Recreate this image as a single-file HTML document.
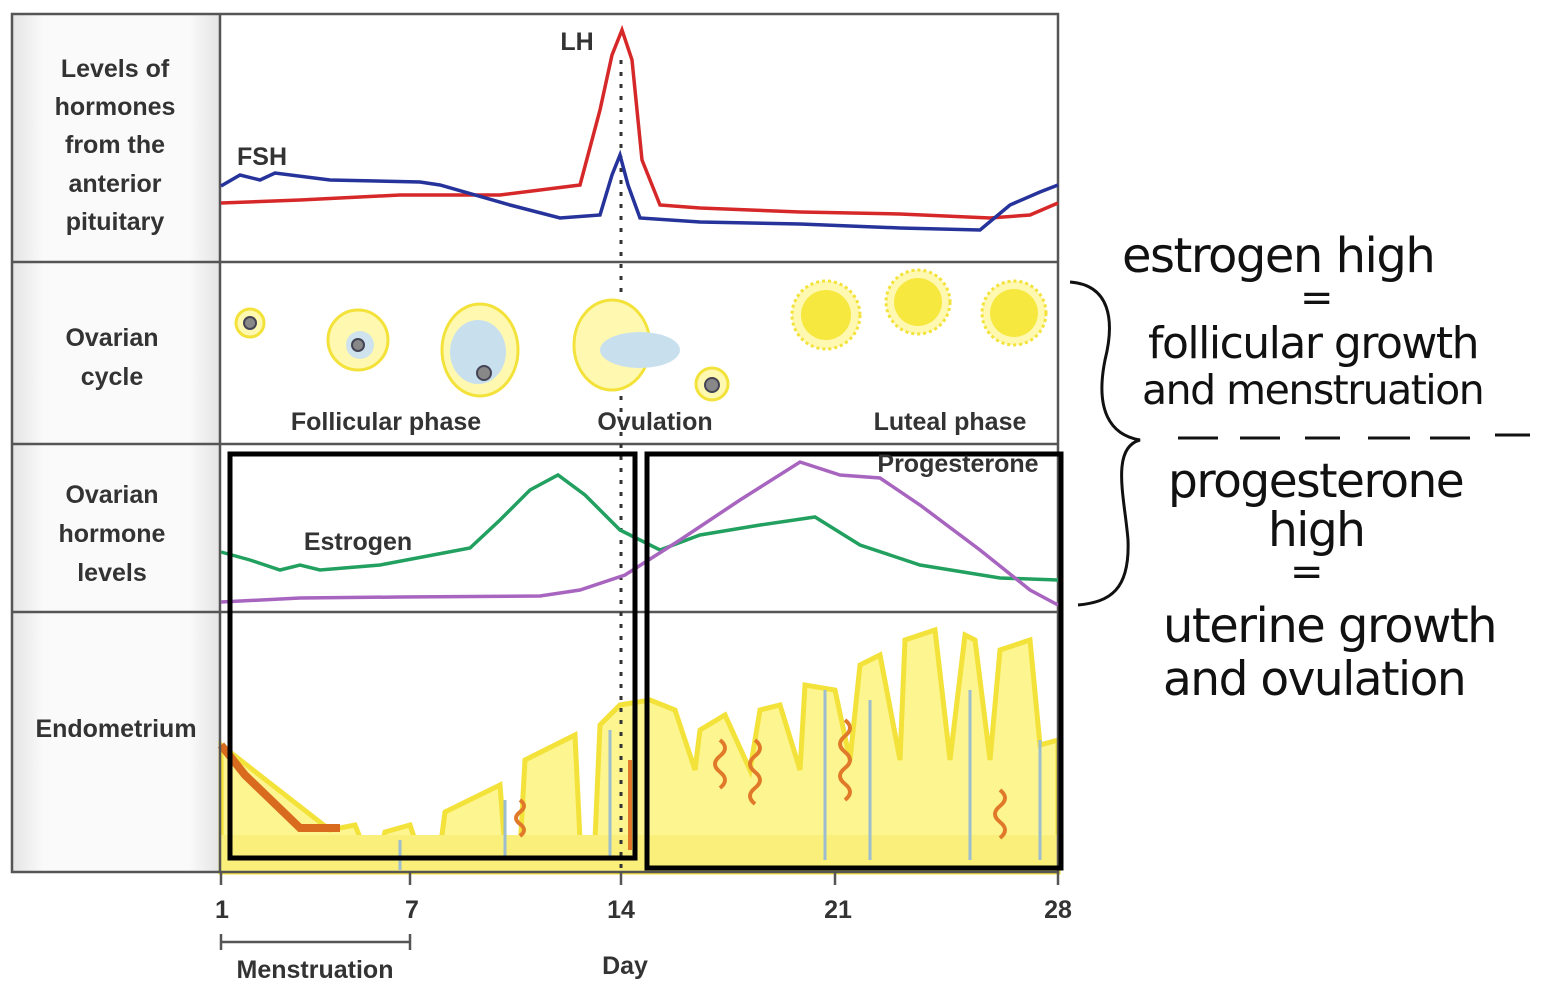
<!DOCTYPE html>
<html><head><meta charset="utf-8"><style>
body{margin:0;width:1568px;height:1000px;background:#fff;overflow:hidden;font-family:"Liberation Sans",sans-serif}
.hw{position:absolute;font-family:"DejaVu Sans","Liberation Sans",sans-serif;font-weight:normal;color:#111;letter-spacing:-1.5px;white-space:nowrap;line-height:1}
</style></head><body>
<svg width="1568" height="1000" style="position:absolute;left:0;top:0" font-family="Liberation Sans, sans-serif">
<defs><linearGradient id="g" x1="0" x2="1"><stop offset="0" stop-color="#e4e4e4"/><stop offset="0.15" stop-color="#fafafa"/><stop offset="0.85" stop-color="#fafafa"/><stop offset="1" stop-color="#e4e4e4"/></linearGradient></defs>
<rect x="12" y="14" width="208" height="858" fill="url(#g)"/>
<path d="M221,745 L221,872 L1058,872 L1058,740 L1040,745 L1030,640 L1000,650 L990,760 L975,640 L965,635 L950,760 L935,630 L905,640 L900,760 L880,655 L860,665 L850,760 L835,690 L805,685 L800,770 L780,705 L760,710 L750,770 L725,715 L700,730 L695,770 L675,710 L650,700 L620,705 L600,725 L595,840 L580,840 L575,735 L525,760 L520,850 L505,850 L500,785 L445,812 L440,850 L430,850 L415,840 L410,825 L385,832 L380,850 L365,850 L355,825 L330,830 Z" fill="#fdf590" stroke="#f3e23a" stroke-width="5"/>
<rect x="221" y="835" width="837" height="37" fill="#f9ef7a"/>
<path d="M221,745 L245,775 L300,828 L340,828" stroke="#d96b1e" stroke-width="8" fill="none"/>
<g stroke="#e07a2a" stroke-width="4" fill="none">
<path d="M755,740 q10,8 0,16 q-10,8 0,16 q10,8 0,16 q-10,8 0,16"/><path d="M845,720 q10,8 0,16 q-10,8 0,16 q10,8 0,16 q-10,8 0,16 q10,8 0,16"/><path d="M720,740 q10,8 0,16 q-10,8 0,16 q10,8 0,16"/><path d="M630,760 v90"/><path d="M1000,790 q10,8 0,16 q-10,8 0,16 q10,8 0,16"/><path d="M520,800 q8,6 0,12 q-8,6 0,12 q8,6 0,12"/></g>
<g stroke="#9cbcd0" stroke-width="3" fill="none"><path d="M610,730 v130 M825,690 v170 M870,700 v160 M970,690 v170 M1040,740 v120 M400,840 v30 M505,800 v60"/></g>
<rect x="12" y="14" width="1046" height="858" fill="none" stroke="#555" stroke-width="2.5"/>
<line x1="220" y1="14" x2="220" y2="872" stroke="#555" stroke-width="2.5"/>
<g stroke="#555" stroke-width="2.5"><line x1="12" y1="262" x2="1058" y2="262"/><line x1="12" y1="444" x2="1058" y2="444"/><line x1="12" y1="612" x2="1058" y2="612"/></g>
<line x1="621" y1="60" x2="621" y2="872" stroke="#333" stroke-width="3" stroke-dasharray="4,8"/>
<path d="M221,203 L300,200 L400,195 L500,195 L580,185 L600,110 L612,55 L622,30 L632,60 L642,160 L660,205 L700,208 L800,212 L900,214 L990,218 L1030,215 L1058,203" stroke="#d62828" stroke-width="3.5" fill="none"/>
<path d="M221,186 L240,175 L260,180 L275,173 L330,180 L420,182 L440,185 L510,205 L560,218 L600,215 L612,175 L620,155 L628,185 L640,218 L700,222 L800,224 L900,228 L980,230 L1010,205 L1040,192 L1058,185" stroke="#26339a" stroke-width="3.5" fill="none"/>
<path d="M221,552 L250,560 L280,570 L300,565 L320,570 L380,565 L470,548 L500,520 L530,490 L558,475 L585,495 L620,530 L660,550 L700,535 L760,525 L815,517 L860,545 L920,565 L1000,578 L1058,580" stroke="#22a060" stroke-width="3.5" fill="none"/>
<path d="M221,602 L300,598 L400,597 L540,596 L580,590 L625,575 L680,540 L740,500 L800,462 L840,475 L880,478 L920,505 L980,550 L1030,590 L1058,605" stroke="#a865c0" stroke-width="3.5" fill="none"/>
<g fill="#fff8b0" stroke="#f3e23a" stroke-width="3">
<circle cx="250" cy="323" r="14"/><circle cx="358" cy="340" r="30"/><ellipse cx="480" cy="350" rx="38" ry="46"/><ellipse cx="612" cy="345" rx="38" ry="45"/><circle cx="712" cy="384" r="16"/>
<circle cx="826" cy="315" r="34" stroke-dasharray="3,3"/><circle cx="918" cy="302" r="32" stroke-dasharray="3,3"/><circle cx="1014" cy="313" r="32" stroke-dasharray="3,3"/></g>
<g fill="#f7e840"><circle cx="826" cy="315" r="25"/><circle cx="918" cy="302" r="24"/><circle cx="1014" cy="313" r="24"/></g>
<ellipse cx="478" cy="352" rx="28" ry="32" fill="#c8e0ee"/><ellipse cx="640" cy="350" rx="40" ry="18" fill="#c8e0ee"/><circle cx="360" cy="345" r="14" fill="#cfe3ee"/>
<g fill="#888" stroke="#445" stroke-width="2"><circle cx="250" cy="323" r="6"/><circle cx="358" cy="345" r="6"/><circle cx="484" cy="373" r="7"/><circle cx="712" cy="385" r="7"/></g>
<rect x="230" y="454" width="405" height="404" fill="none" stroke="#000" stroke-width="5"/>
<rect x="647" y="454" width="414" height="414" fill="none" stroke="#000" stroke-width="5"/>
<g font-weight="bold" fill="#333" font-size="25" text-anchor="middle">
<text x="115" y="77">Levels of</text><text x="115" y="115">hormones</text><text x="115" y="153">from the</text><text x="115" y="192">anterior</text><text x="115" y="230">pituitary</text>
<text x="112" y="346">Ovarian</text><text x="112" y="385">cycle</text>
<text x="112" y="503">Ovarian</text><text x="112" y="542">hormone</text><text x="112" y="581">levels</text>
<text x="116" y="737">Endometrium</text>
<text x="386" y="430">Follicular phase</text><text x="655" y="430">Ovulation</text><text x="950" y="430">Luteal phase</text>
<text x="358" y="550">Estrogen</text><text x="958" y="472">Progesterone</text>
<text x="577" y="50">LH</text><text x="262" y="165">FSH</text>
<text x="222" y="918">1</text><text x="412" y="918">7</text><text x="621" y="918">14</text><text x="838" y="918">21</text><text x="1058" y="918">28</text>
<text x="315" y="978">Menstruation</text><text x="625" y="974">Day</text>
</g>
<g stroke="#555" stroke-width="2.5"><line x1="221" y1="872" x2="221" y2="885"/><line x1="410" y1="872" x2="410" y2="885"/><line x1="621" y1="872" x2="621" y2="885"/><line x1="835" y1="872" x2="835" y2="885"/><line x1="1058" y1="872" x2="1058" y2="885"/>
<line x1="221" y1="942" x2="410" y2="942"/><line x1="221" y1="934" x2="221" y2="950"/><line x1="410" y1="934" x2="410" y2="950"/></g>
<path d="M1070,282 C1110,285 1115,320 1105,360 C1095,410 1110,435 1140,440 C1110,448 1125,500 1128,540 C1130,590 1110,602 1078,605" stroke="#111" stroke-width="3" fill="none"/>
<g stroke="#111" stroke-width="3"><line x1="1178" y1="438" x2="1218" y2="438"/><line x1="1240" y1="438" x2="1280" y2="438"/><line x1="1305" y1="438" x2="1340" y2="438"/><line x1="1368" y1="438" x2="1410" y2="438"/><line x1="1430" y1="438" x2="1470" y2="438"/><line x1="1495" y1="435" x2="1530" y2="435"/></g>
</svg>
<div class="hw" style="left:1122px;top:232px;font-size:48px">estrogen high</div>
<div class="hw" style="left:1300px;top:278px;font-size:40px">=</div>
<div class="hw" style="left:1148px;top:322px;font-size:44px">follicular growth</div>
<div class="hw" style="left:1142px;top:370px;font-size:41px">and menstruation</div>
<div class="hw" style="left:1168px;top:458px;font-size:47px">progesterone</div>
<div class="hw" style="left:1268px;top:507px;font-size:47px">high</div>
<div class="hw" style="left:1290px;top:552px;font-size:40px">=</div>
<div class="hw" style="left:1163px;top:602px;font-size:48px">uterine growth</div>
<div class="hw" style="left:1163px;top:656px;font-size:47px">and ovulation</div>
</body></html>
